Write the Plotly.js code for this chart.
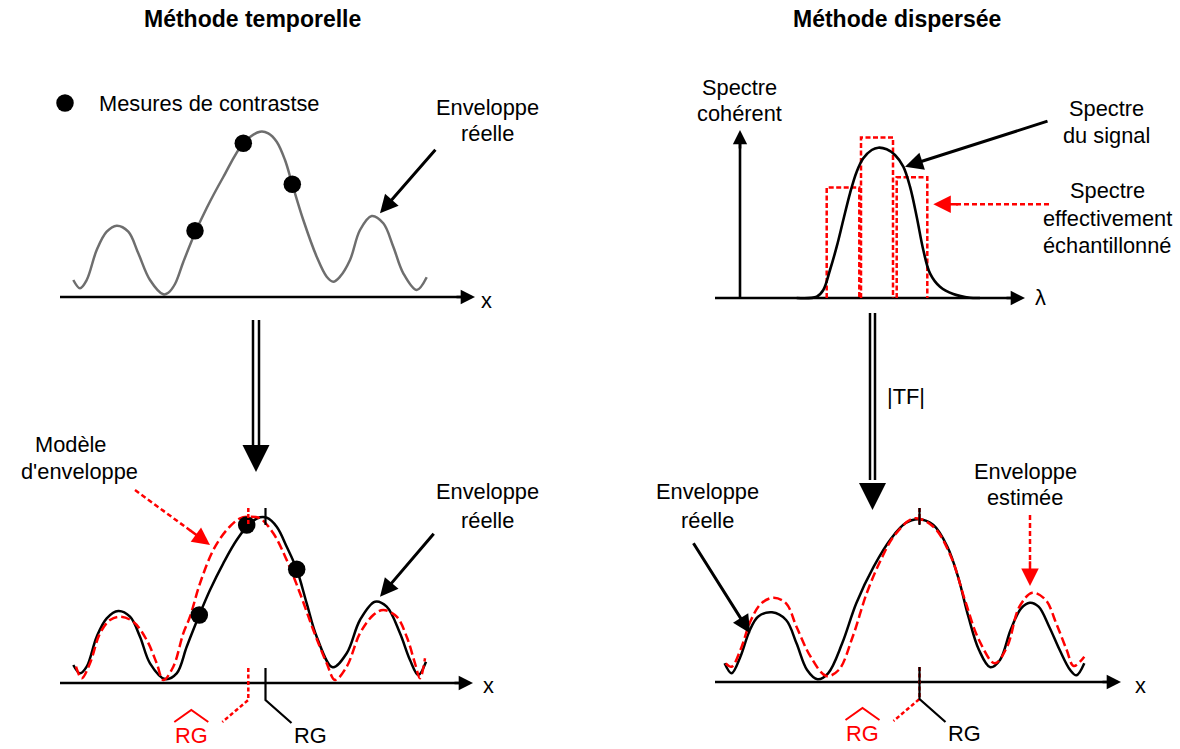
<!DOCTYPE html>
<html>
<head>
<meta charset="utf-8">
<script src="https://cdn.plot.ly/plotly-3.0.1.min.js"></script>
<style>
html,body{margin:0;padding:0;background:#ffffff;}
#chart{width:1180px;height:749px;}
</style>
</head>
<body>
<div id="chart"></div>
<script>
// ================= DATA =================
// Panel A : Méthode temporelle – enveloppe réelle + mesures de contraste
const envTopX = [13.3,20,26.7,36.7,46.7,56.7,68.3,78.3,90,103.3,108.3,115,123.3,135,146.7,163.3,183.3,200,208.3,216.7,225,232.3,243.3,256.7,266.7,273.3,280,290,300,311.7,323.3,333.3,343.3,356.7,366.7];
const envTopY = [17,8.7,17,47,65.3,71.3,65.3,43.7,17,2.7,4.3,13,35,64,89,120,153.7,165.3,163.7,155.3,137,112.7,77,40.3,20.3,15.3,20.3,37,67,81,73.7,50.3,23.7,7,19.7];
const measTopX = [135, 183.3, 232.3];
const measTopY = [66.3, 153.7, 112.7];

// Panel B : Méthode temporelle – enveloppe réelle, modèle d'enveloppe
const envRealBX = [13.3,20,26.7,36.7,46.7,58.3,70,80,90,105,116.7,126.7,139.3,150,163.3,176.7,190,200,206.7,216.7,226.7,236.7,246.7,256.7,272.7,286.7,300,315,326.7,340,350,358.3,366];
const envRealBY = [18,9.7,16.3,46.3,64.7,72,66.3,46.3,19.7,4,9.7,36.3,68,93,119.7,143,159.7,165.7,165.3,156.3,136.3,113.7,79.7,46.3,15.7,29.7,63,81.3,76.3,49.7,23,8,21.3];
const envModelBX = [16,21.7,30,40,50,60,73.3,86.7,96.7,103.3,113.3,123.3,130,140,153.3,166.7,180,190,200,213.3,226.7,240,253.3,266.7,275,286.7,300,313.3,323.3,336.7,346.7,355,360,365];
const envModelBY = [16.3,4.7,19.7,49.7,63,66.3,61.3,43,19.7,3,16.3,49.7,66.3,99.7,133,153,164.7,166.3,164.7,149.7,123,89.7,53,19.7,3,16.3,49.7,68,73,66.3,46.3,19.7,4.7,24.7];
const measBotX = [139.3, 186.7, 236.7];
const measBotY = [68, 158, 113.7];
const rgRealB = 205.5;   // RG (réel)
const rgModelB = 188.3;  // RG estimé (modèle)

// Panel C : Méthode dispersée – spectre cohérent
const specX = [81.7,101.7,108.3,115,121.7,128.3,135,141.7,148.3,156.7,163.3,171.7,180,188.3,195,201.7,208.3,215,225,238.3,255,265];
const specY = [0,1.3,8,28,51.3,78,104.7,126.3,139.7,148,150.3,148.7,143,131.3,111.3,81.3,48,24.7,11.3,4,0.3,0];
const binLeft  = [111.7, 146, 181.7];
const binRight = [144.3, 178, 212.3];
const binTop   = [110.5, 160.5, 120.7];

// Panel D : Méthode dispersée – enveloppe réelle, enveloppe estimée
const envRealDX = [9.6,16.6,25.4,34.2,43,57,71.1,81.5,92.1,102.6,113.1,127.2,141.3,158.7,176.3,190.3,203.7,218.4,232.4,243,253.4,264,275.3,285,295.6,306.1,314.9,323.6,334.2,344.7,355.2,361.5,369.3];
const envRealDY = [18.7,8.7,25.3,50.3,65.3,69.7,62,38.7,12,2.7,8.7,38.7,78.7,115.3,143.7,158.7,162.7,157,135.3,105.3,65.3,32,14.7,22,52,73.7,79.3,75.3,55.3,32,12,6.7,18.7];
const envEstDX = [10.7,16.6,25.4,36,46.4,58.8,71.1,81.5,95.6,111.3,123.7,137.7,151.7,165.8,179.8,199.1,218.4,236,249.9,264,279.8,292.1,304.4,317.3,330.7,341.2,351.7,358.7,369.3];
const envEstDY = [18.7,15.3,32,62,78.7,84.3,78.7,55.3,25.3,6,12,45.3,88.7,122,147,163.7,155.3,125.3,82,42,18.7,35.3,75.3,89.3,82,58.7,32,16,25.3];
const rgD = 204.5;

// Texts
const titles = ['Méthode temporelle', 'Méthode dispersée'];
const legendText = 'Mesures de contrastse';

// ================= LAYOUT / HELPERS =================
const W = 1180, H = 749;
const FONT = 'Liberation Sans, Arial, Helvetica, sans-serif';
const FS = 21.8;
const RED = '#ff0000';
const P = {
  A:{x:'x',  y:'y',  box:[0,0,590,380],     o:[60,297]},
  B:{x:'x2', y:'y2', box:[0,300,590,749],   o:[60,683]},
  C:{x:'x3', y:'y3', box:[590,0,1180,380],  o:[715,298]},
  D:{x:'x4', y:'y4', box:[590,300,1180,749],o:[715,682]}
};
const layout = {
  width:W, height:H, margin:{l:0,r:0,t:0,b:0,pad:0},
  paper_bgcolor:'#ffffff', plot_bgcolor:'rgba(0,0,0,0)',
  showlegend:false, hovermode:false, dragmode:false,
  font:{family:FONT, size:FS, color:'#000'},
  annotations:[]
};
Object.keys(P).forEach((k,i)=>{
  const p = P[k], b = p.box, s = i===0 ? '' : String(i+1);
  layout['xaxis'+s] = {domain:[b[0]/W, b[2]/W], range:[b[0]-p.o[0], b[2]-p.o[0]], visible:false, fixedrange:true, anchor:'y'+s};
  layout['yaxis'+s] = {domain:[1-b[3]/H, 1-b[1]/H], range:[p.o[1]-b[3], p.o[1]-b[1]], visible:false, fixedrange:true, anchor:'x'+s};
});
const traces = [];
function line(k, xs, ys, color, width, dash, spline){
  traces.push({type:'scatter', mode:'lines', xaxis:P[k].x, yaxis:P[k].y, x:xs, y:ys,
    line:{color:color, width:width, dash:dash||'solid', shape:spline?'spline':'linear', smoothing:spline?1:undefined},
    hoverinfo:'skip'});
}
function dots(k, xs, ys, size){
  traces.push({type:'scatter', mode:'markers', xaxis:P[k].x, yaxis:P[k].y, x:xs, y:ys,
    marker:{color:'#000', size:size, line:{width:0}}, hoverinfo:'skip'});
}
function arrow(k, tail, tip, color, width, size, dash){
  const hl = 5*width*size;
  const dx = tip[0]-tail[0], dy = tip[1]-tail[1], L = Math.hypot(dx,dy), ux = dx/L, uy = dy/L;
  let start = tail;
  if(dash){
    line(k, [tail[0], tip[0]-ux*hl*1.3], [tail[1], tip[1]-uy*hl*1.3], color, width, dash);
    start = [tip[0]-ux*hl*1.5, tip[1]-uy*hl*1.5];
  }
  layout.annotations.push({xref:P[k].x, yref:P[k].y, axref:P[k].x, ayref:P[k].y,
    x:tip[0], y:tip[1], ax:start[0], ay:start[1], text:'', showarrow:true,
    arrowhead:2, arrowsize:size, arrowwidth:width, arrowcolor:color, font:{size:1}});
}
function bigArrow(k, xc, gap, yTop, yBase, yTip, headW){
  line(k, [xc-gap/2, xc-gap/2], [yTop, yBase], '#000', 2.5);
  line(k, [xc+gap/2, xc+gap/2], [yTop, yBase], '#000', 2.5);
  const size = headW/5;
  layout.annotations.push({xref:P[k].x, yref:P[k].y, axref:P[k].x, ayref:P[k].y,
    x:xc, y:yTip, ax:xc, ay:yTip + headW + 1, text:'', showarrow:true,
    arrowhead:2, arrowsize:size, arrowwidth:1, arrowcolor:'#000', font:{size:1}});
}
function label(k, x, y, text, color, anchor, size){
  layout.annotations.push({xref:P[k].x, yref:P[k].y, x:x, y:y, text:text, showarrow:false,
    xanchor:anchor||'center', yanchor:'middle',
    font:{family:FONT, size:size||FS, color:color||'#000'}});
}
function rgMarks(k, rgReal, rgEst, tickLow, tickHigh, yLab){
  // ticks at peaks
  line(k, [rgEst, rgEst], [tickLow, tickHigh], RED, 2.5, '4px,2px');
  line(k, [rgReal, rgReal], [tickLow-1, tickHigh], '#000', 2.2);
  // connectors below the axis
  line(k, [rgEst, rgEst, rgEst-26], [15, -17, -39], RED, 2.5, '4px,2.5px');
  line(k, [rgReal, rgReal, rgReal+26], [15, -17, -40], '#000', 2.2);
  const xr = rgEst-57;
  label(k, xr, yLab, 'RG', RED);
  label(k, rgReal+45, yLab, 'RG', '#000');
  line(k, [xr-17, xr, xr+17], [yLab+13, yLab+25, yLab+13], RED, 2);
}

// ================= PANEL A =================
line('A', envTopX, envTopY, '#6e6e6e', 2.5, null, true);
line('A', [0, 405], [0, 0], '#000', 2.6);
arrow('A', [395, 0], [415, 0], '#000', 2.6, 1.1);
dots('A', measTopX, measTopY, 17.5);
dots('A', [5], [194], 17.5);
label('A', 37, 194, legendText, '#000', 'left');
label('A', 427, 190, 'Enveloppe');
label('A', 427, 164, 'réelle');
label('A', 426, -3, 'x');
arrow('A', [376.7, 148.7], [320, 83.7], '#000', 3, 1.2);

// ================= PANEL B =================
line('B', envRealBX, envRealBY, '#000', 2.5, null, true);
line('B', envModelBX, envModelBY, RED, 2.5, '9px,4px', true);
dots('B', measBotX, measBotY, 17.5);
line('B', [0, 403], [0, 0], '#000', 2.6);
arrow('B', [393, 0], [413, 0], '#000', 2.6, 1.1);
label('B', 428, -2, 'x');
rgMarks('B', rgRealB, rgModelB, 159, 175, -52);
label('B', 11, 238, 'Modèle');
label('B', 19, 211, "d'enveloppe");
arrow('B', [75, 193], [150, 138], RED, 2.5, 1.4, '5px,3px');
label('B', 427, 191, 'Enveloppe');
label('B', 427, 163, 'réelle');
arrow('B', [375, 150.7], [320, 86.3], '#000', 3, 1.2);
bigArrow('B', 196, 6, 363, 236, 211, 27);

// ================= PANEL C =================
line('C', [0, 300], [0, 0], '#000', 2.6);
arrow('C', [290, 0], [310, 0], '#000', 2.6, 1.1);
line('C', [25, 25], [0, 155], '#000', 2.6);
arrow('C', [25, 148], [25, 168], '#000', 2.6, 1.1);
label('C', 325, 1, 'λ');
label('C', 24, 211, 'Spectre');
label('C', 24, 185, 'cohérent');
binLeft.forEach((x0,i)=>{
  line('C', [x0, x0, binRight[i], binRight[i]], [0, binTop[i], binTop[i], 0], RED, 2.5, '5px,2.5px');
});
line('C', specX, specY, '#000', 2.6, null, true);
label('C', 391, 190, 'Spectre');
label('C', 391, 163, 'du signal');
arrow('C', [334, 177.3], [190, 131.3], '#000', 3, 1.2);
label('C', 392, 108, 'Spectre');
label('C', 392, 80, 'effectivement');
label('C', 392, 53, 'échantillonné');
arrow('C', [334, 93.7], [218.3, 93.7], RED, 2.5, 1.4, '5px,3px');

// ================= PANEL D =================
bigArrow('D', 157.5, 5, 369, 202, 172, 27);
label('D', 191, 285, '|TF|');
line('D', envRealDX, envRealDY, '#000', 2.5, null, true);
line('D', envEstDX, envEstDY, RED, 2.5, '9px,4px', true);
line('D', [0, 396], [0, 0], '#000', 2.6);
arrow('D', [386, 0], [406, 0], '#000', 2.6, 1.1);
label('D', 425, -3, 'x');
rgMarks('D', rgD, rgD, 158, 174, -51);
label('D', -8, 190, 'Enveloppe');
label('D', -8, 162, 'réelle');
arrow('D', [-22.5, 140.3], [35.2, 48.7], '#000', 3, 1.2);
label('D', 310, 210, 'Enveloppe');
label('D', 310, 184, 'estimée');
arrow('D', [315, 167], [315, 96], RED, 2.5, 1.4, '5px,3px');

// ================= TITLES =================
[[252, titles[0]], [897, titles[1]]].forEach(t=>{
  layout.annotations.push({xref:'paper', yref:'paper', x:t[0]/W, y:1-19/H, text:'<b>'+t[1]+'</b>',
    showarrow:false, xanchor:'center', yanchor:'middle', font:{family:FONT, size:23, color:'#000'}});
});

Plotly.newPlot('chart', traces, layout, {staticPlot:true, displayModeBar:false});
</script>
</body>
</html>
